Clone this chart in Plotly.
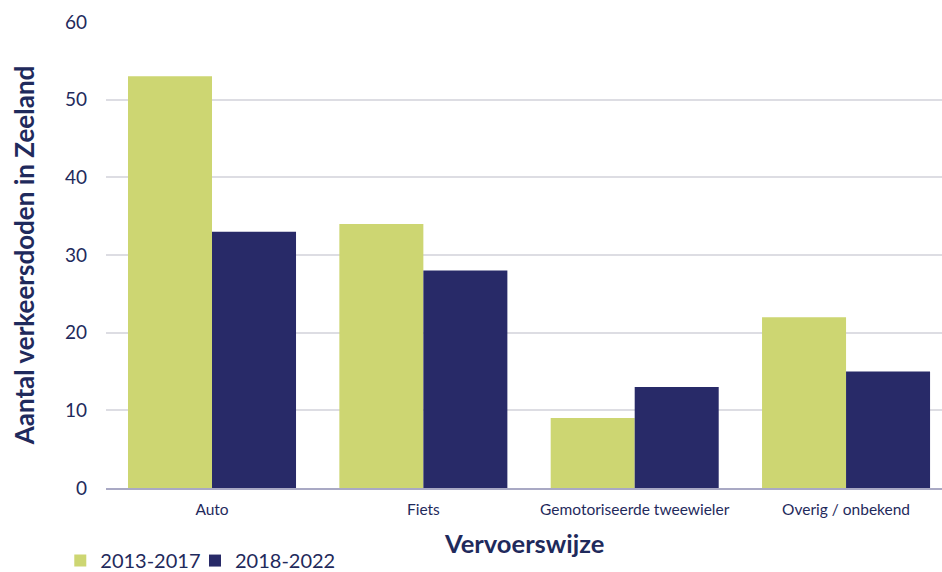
import plotly.graph_objects as go

categories = ["Auto", "Fiets", "Gemotoriseerde tweewieler", "Overig / onbekend"]
series_names = ["2013-2017", "2018-2022"]
values_2013_2017 = [53, 34, 9, 22]
values_2018_2022 = [33, 28, 13, 15]
colors = ["#CDD672", "#282A68"]
y_ticks = [0, 10, 20, 30, 40, 50, 60]

navy = "#1F2A5C"
font_family = "Lato, Calibri, 'Open Sans', sans-serif"

fig = go.Figure()
legend_ids = ["legend", "legend2"]
for name, vals, col, lg in zip(series_names, [values_2013_2017, values_2018_2022], colors, legend_ids):
    fig.add_trace(go.Bar(x=categories, y=vals, name=name, marker_color=col,
                         marker_line_width=0, legend=lg))

legend_common = dict(orientation="h", xref="container", xanchor="left",
                     y=0.02, yref="container", yanchor="middle",
                     font=dict(size=20, color=navy), itemwidth=30,
                     itemsizing="constant", bgcolor="rgba(0,0,0,0)")

fig.update_layout(
    width=942, height=572,
    margin=dict(l=106, r=0, t=22, b=84, autoexpand=False),
    plot_bgcolor="white", paper_bgcolor="white",
    barmode="group", bargap=0.205, bargroupgap=0,
    font=dict(family=font_family, color=navy),
    showlegend=True,
    legend=dict(x=0.064, **legend_common),
    legend2=dict(x=0.207, **legend_common),
    xaxis=dict(
        range=[-0.5016, 3.454],
        tickfont=dict(size=15.5, color=navy), automargin=False,
        showline=True, linecolor="#A9A9C4", linewidth=1.5,
        ticks="", ticklabelstandoff=7,
    ),
    yaxis=dict(
        range=[0, 60], tickvals=y_ticks, automargin=True,
        tickfont=dict(size=19, color=navy),
        showgrid=True, gridcolor="#DDDDE3", gridwidth=1.5,
        zeroline=False, ticks="", ticklabelstandoff=18,
        title=dict(text="<b>Aantal verkeersdoden in Zeeland</b>", font=dict(size=26, color=navy), standoff=22),
    ),
    annotations=[dict(text="<b>Vervoerswijze</b>", xref="paper", yref="paper",
                      x=0.5, y=-0.118, xanchor="center", yanchor="middle",
                      showarrow=False, font=dict(size=25.5, color=navy))],
)
fig.write_html("out.html")
